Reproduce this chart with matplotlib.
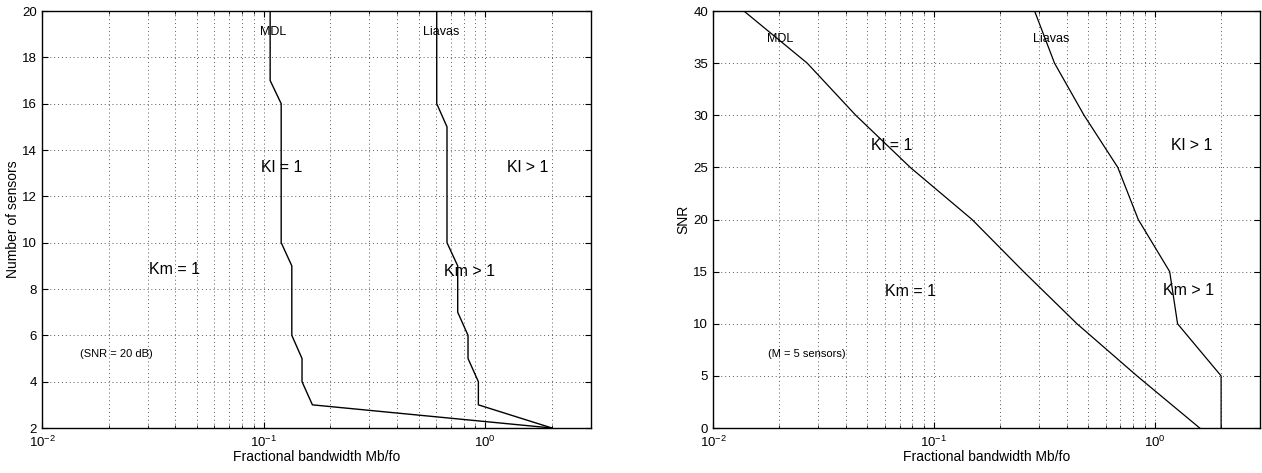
"""Detection regions (Kl, Km) vs fractional bandwidth, MDL and Liavas bounds."""

import matplotlib
matplotlib.use("Agg")
import matplotlib.pyplot as plt
from matplotlib.ticker import LogLocator, NullFormatter

plt.rcParams["font.family"] = ["Liberation Sans", "DejaVu Sans"]
plt.rcParams["mathtext.default"] = "regular"

# Left panel: number of sensors vs fractional bandwidth (SNR = 20 dB)
sensors = [20, 17, 16, 10, 9, 6, 5, 4, 3, 2]
mdl_bw_sensors = [0.107, 0.107, 0.120, 0.120, 0.134, 0.134, 0.149, 0.149, 0.166, 2.0]
sensors_liavas = [20, 16, 15, 10, 9, 7, 6, 5, 4, 3, 2]
liavas_bw_sensors = [0.604, 0.604, 0.672, 0.672, 0.751, 0.751, 0.836, 0.836, 0.931, 0.931, 2.0]

# Right panel: SNR vs fractional bandwidth (M = 5 sensors)
snr = [40, 35, 30, 25, 20, 15, 10, 5, 0]
mdl_bw_snr = [0.0138, 0.0267, 0.0443, 0.0782, 0.149, 0.255, 0.445, 0.832, 1.6]
liavas_bw_snr = [0.286, 0.352, 0.479, 0.681, 0.843, 1.17, 1.27, 2.0, 2.0]

XLABEL = "Fractional bandwidth Mb/fo"
GRID = dict(linestyle=(0, (1, 3)), color="0.35", linewidth=0.7)


def style_axes(ax):
    ax.set_xscale("log")
    ax.set_xlim(0.01, 3)
    ax.xaxis.set_major_locator(LogLocator(base=10, numticks=10))
    ax.xaxis.set_minor_locator(LogLocator(base=10, subs=range(2, 10), numticks=10))
    ax.xaxis.set_minor_formatter(NullFormatter())
    ax.grid(True, which="major", **GRID)
    ax.grid(True, which="minor", axis="x", **GRID)
    ax.tick_params(which="both", direction="in", top=True, right=True, labelsize=9.5)
    ax.tick_params(axis="x", which="major", pad=5)
    ax.tick_params(which="major", length=4)
    ax.tick_params(which="minor", length=2)
    for s in ax.spines.values():
        s.set_linewidth(1.0)
    ax.set_xlabel(XLABEL, fontsize=10, labelpad=0)


def main() -> None:
    fig = plt.figure(figsize=(12.62, 4.73), dpi=100)
    ax1 = fig.add_axes([0.0333, 0.0951, 0.435, 0.8816])
    ax2 = fig.add_axes([0.565, 0.0951, 0.4334, 0.8816])

    # left
    ax1.plot(mdl_bw_sensors, sensors, color="black", linewidth=1.0)
    ax1.plot(liavas_bw_sensors, sensors_liavas, color="black", linewidth=1.0)
    style_axes(ax1)
    ax1.set_ylim(2, 20)
    ax1.set_yticks(range(2, 21, 2))
    ax1.set_ylabel("Number of sensors", fontsize=10, labelpad=2)
    ax1.text(0.110, 19.1, "MDL", fontsize=9, ha="center", va="center")
    ax1.text(0.634, 19.1, "Liavas", fontsize=9, ha="center", va="center")
    ax1.text(0.121, 13.25, "Kl = 1", fontsize=11.5, ha="center", va="center")
    ax1.text(1.55, 13.25, "Kl > 1", fontsize=11.5, ha="center", va="center")
    ax1.text(0.0398, 8.85, "Km = 1", fontsize=11.5, ha="center", va="center")
    ax1.text(0.853, 8.75, "Km > 1", fontsize=11.5, ha="center", va="center")
    ax1.text(0.0217, 5.2, "(SNR = 20 dB)", fontsize=8, ha="center", va="center")

    # right
    ax2.plot(mdl_bw_snr, snr, color="black", linewidth=0.9)
    ax2.plot(liavas_bw_snr, snr, color="black", linewidth=0.9)
    style_axes(ax2)
    ax2.set_ylim(0, 40)
    ax2.set_yticks(range(0, 41, 5))
    ax2.set_ylabel("SNR", fontsize=10, labelpad=2)
    ax2.text(0.0201, 37.3, "MDL", fontsize=9, ha="center", va="center")
    ax2.text(0.341, 37.35, "Liavas", fontsize=9, ha="center", va="center")
    ax2.text(0.0644, 27.1, "Kl = 1", fontsize=11.5, ha="center", va="center")
    ax2.text(1.47, 27.1, "Kl > 1", fontsize=11.5, ha="center", va="center")
    ax2.text(0.0782, 13.1, "Km = 1", fontsize=11.5, ha="center", va="center")
    ax2.text(1.42, 13.2, "Km > 1", fontsize=11.5, ha="center", va="center")
    ax2.text(0.0267, 7.1, "(M = 5 sensors)", fontsize=8, ha="center", va="center")

    fig.savefig("out.png", dpi=100)


if __name__ == "__main__":
    main()
